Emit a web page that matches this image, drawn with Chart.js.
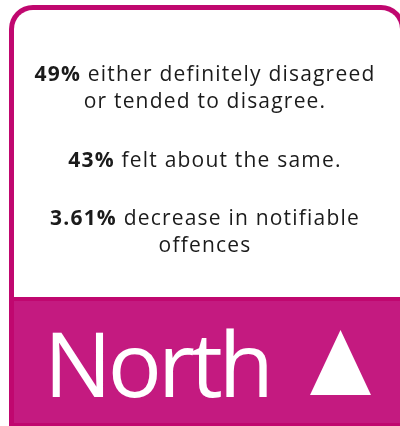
<!DOCTYPE html>
<html>
<head>
<meta charset="utf-8">
<script src="https://cdn.jsdelivr.net/npm/chart.js@4"></script>
<style>
  html, body { margin: 0; padding: 0; background: #ffffff; }
  #wrap { width: 400px; height: 426px; }
</style>
</head>
<body>
<div id="wrap"><canvas id="c" width="400" height="426"></canvas></div>
<script>
// ---- data ----
const statValues = [49, 43, 3.61];
const statUnits = ['%', '%', '%'];
const statTexts = [
  ['either definitely disagreed', 'or tended to disagree.'],
  ['felt about the same.'],
  ['decrease in notifiable', 'offences']
];
const regionName = 'North';
const trendDirection = 'up';

// ---- styles ----
const BORDER = '#c0076f';
const BAND = '#c41a80';
const TEXT = '#1b1b1b';
const BODY_FONT = '"Open Sans", sans-serif';
const TITLE_FONT = '"Open Sans", "Noto Sans", sans-serif';

function topRoundedRect(ctx, x, y, w, h, r) {
  ctx.beginPath();
  ctx.moveTo(x, y + h);
  ctx.lineTo(x, y + r);
  ctx.arcTo(x, y, x + r, y, r);
  ctx.lineTo(x + w - r, y);
  ctx.arcTo(x + w, y, x + w, y + r, r);
  ctx.lineTo(x + w, y + h);
  ctx.closePath();
}

const cardPlugin = {
  id: 'card',
  beforeDraw(chart) {
    const ctx = chart.ctx;
    ctx.save();
    ctx.fillStyle = '#ffffff';
    ctx.fillRect(0, 0, chart.width, chart.height);
    ctx.fillStyle = BORDER;
    topRoundedRect(ctx, 9, 5, 396, 421, 24);
    ctx.fill();
    ctx.fillStyle = '#ffffff';
    topRoundedRect(ctx, 14, 10, 386, 287, 19);
    ctx.fill();
    ctx.fillStyle = BAND;
    ctx.fillRect(14, 301, 386, 122);
    ctx.restore();
  },
  afterDraw(chart) {
    const ctx = chart.ctx;
    ctx.save();
    const cx = 205;
    const size = 21;
    const lineH = 27;
    const paraStarts = [81, 167, 225];
    const regular = '400 ' + size + 'px ' + BODY_FONT;
    const bold = '700 ' + size + 'px ' + BODY_FONT;
    ctx.fillStyle = TEXT;
    ctx.textBaseline = 'alphabetic';
    ctx.letterSpacing = '1.2px';
    statValues.forEach((v, i) => {
      const num = String(v) + statUnits[i];
      statTexts[i].forEach((line, j) => {
        const y = paraStarts[i] + j * lineH;
        if (j === 0) {
          ctx.font = bold;
          const wb = ctx.measureText(num + ' ').width;
          ctx.font = regular;
          const wr = ctx.measureText(line).width;
          const x0 = cx - (wb + wr) / 2;
          ctx.textAlign = 'left';
          ctx.font = bold;
          ctx.fillText(num + ' ', x0, y);
          ctx.font = regular;
          ctx.fillText(line, x0 + wb, y);
        } else {
          ctx.font = regular;
          ctx.textAlign = 'center';
          ctx.fillText(line, cx, y);
        }
      });
    });
    // region name
    ctx.fillStyle = '#ffffff';
    ctx.textAlign = 'left';
    ctx.letterSpacing = '-4px';
    ctx.font = '90px ' + TITLE_FONT;
    ctx.fillText(regionName, 44, 397);
    ctx.letterSpacing = '0px';
    // trend triangle
    ctx.beginPath();
    if (trendDirection === 'up') {
      ctx.moveTo(310, 395);
      ctx.lineTo(371, 395);
      ctx.lineTo(340.5, 330);
    } else {
      ctx.moveTo(310, 330);
      ctx.lineTo(371, 330);
      ctx.lineTo(340.5, 395);
    }
    ctx.closePath();
    ctx.fill();
    ctx.restore();
  }
};

new Chart(document.getElementById('c'), {
  type: 'bar',
  data: {
    labels: statTexts.map(t => t.join(' ')),
    datasets: [{ data: statValues, backgroundColor: 'rgba(0,0,0,0)', borderWidth: 0 }]
  },
  options: {
    responsive: false,
    animation: false,
    devicePixelRatio: 1,
    layout: { padding: 0 },
    plugins: { legend: { display: false }, tooltip: { enabled: false } },
    scales: { x: { display: false }, y: { display: false } }
  },
  plugins: [cardPlugin]
});
</script>
</body>
</html>
